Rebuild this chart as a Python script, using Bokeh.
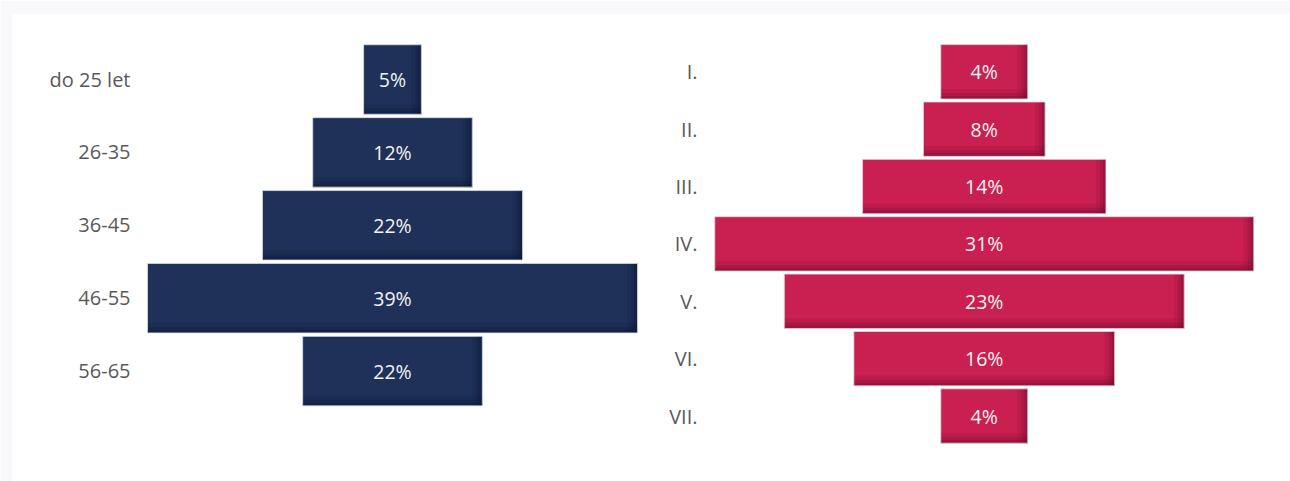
from bokeh.plotting import figure
from bokeh.models import Range1d, ColumnDataSource
from bokeh.core.properties import value
from bokeh.embed import file_html
from bokeh.resources import INLINE

# ---------------- data ----------------
age_groups = ["do 25 let", "26-35", "36-45", "46-55", "56-65"]
age_pct = [5, 12, 22, 39, 22]                 # printed labels (%)
age_bar = [4.6, 12.7, 20.7, 39.0, 14.3]       # bar lengths as drawn (% units)

classes = ["I.", "II.", "III.", "IV.", "V.", "VI.", "VII."]
class_pct = [4, 8, 14, 31, 23, 16, 4]         # printed labels (%)
class_bar = [5.0, 7.0, 14.0, 31.0, 23.0, 15.0, 5.0]  # bar lengths as drawn

NAVY = "#1F3159"
NAVY_DARK = "#0B1430"
CRIMSON = "#C91F51"
CRIMSON_DARK = "#6E0B2A"
LABEL_GRAY = "#595959"
FONT = "Open Sans"

W, H = 1290, 481
BL, BT = 12, 14
FW, FH = W - BL, H - BT

# pixel scales (px per data unit) for the two panels
LEFT_SCALE, LEFT_CX = 12.564, 392 - BL      # center in frame px
RIGHT_SCALE, RIGHT_CX = 17.387, 983.75 - BL
LEFT_PITCH, LEFT_Y0 = 72.9, 79 - BT
RIGHT_PITCH, RIGHT_Y0 = 57.37, 71.3 - BT


def xr(scale, cx):
    s = -cx / scale
    return Range1d(s, s + FW / scale)


def yr(pitch, y0):
    e = -y0 / pitch
    return Range1d(e + FH / pitch, e)


p = figure(width=W, height=H, output_backend="svg", toolbar_location=None,
           x_axis_type=None, y_axis_type=None,
           x_range=xr(LEFT_SCALE, LEFT_CX), y_range=yr(LEFT_PITCH, LEFT_Y0),
           min_border_left=BL, min_border_top=BT, min_border_right=0, min_border_bottom=0)
p.extra_x_ranges = {"cls": xr(RIGHT_SCALE, RIGHT_CX)}
p.extra_y_ranges = {"cls": yr(RIGHT_PITCH, RIGHT_Y0)}
p.grid.visible = False
p.outline_line_color = None
p.background_fill_color = "white"
p.border_fill_color = "#F8F8FA"


def panel(cats, pct, bars, scale, pitch, color, dark, label_px, rname=None):
    n = len(cats)
    ys = list(range(n))
    h = 0.953 if rname is None else 0.948
    kw = {} if rname is None else {"x_range_name": rname, "y_range_name": rname}
    src = ColumnDataSource(dict(
        y=ys, left=[-b / 2 for b in bars], right=[b / 2 for b in bars],
        top=[y - h / 2 for y in ys], bottom=[y + h / 2 for y in ys],
        lab=[f"{v}%" for v in pct], cat=cats, zero=[0] * n,
    ))
    p.quad(left="left", right="right", top="top", bottom="bottom", source=src,
           fill_color=color, line_color=None, **kw)
    dx = 1.0 / scale
    dy = 1.0 / pitch
    # bevel shading: right edge and bottom edge
    for k, a in [(10, 0.14), (6, 0.2), (3, 0.28)]:
        rs = ColumnDataSource(dict(
            l=[b / 2 - k * dx for b in bars], r=[b / 2 for b in bars],
            t=[y - h / 2 for y in ys], b=[y + h / 2 for y in ys]))
        p.quad(left="l", right="r", top="t", bottom="b", source=rs,
               fill_color=dark, fill_alpha=a, line_color=None, **kw)
        bs = ColumnDataSource(dict(
            l=[-b / 2 for b in bars], r=[b / 2 for b in bars],
            t=[y + h / 2 - k * dy for y in ys], b=[y + h / 2 for y in ys]))
        p.quad(left="l", right="r", top="t", bottom="b", source=bs,
               fill_color=dark, fill_alpha=a, line_color=None, **kw)
    p.quad(left="left", right="right", top="top", bottom="bottom", source=src,
           fill_alpha=0, line_color="#DADDE5", line_alpha=0.8, line_width=1, **kw)
    p.text(x="zero", y="y", text="lab", source=src, text_color="#F2F2F2",
           text_font=value(FONT), text_font_size="19.5px", text_align="center",
           text_baseline="middle", **kw)
    lsrc = ColumnDataSource(dict(x=[label_px / scale] * n, y=ys, cat=cats))
    p.text(x="x", y="y", text="cat", source=lsrc, text_color=LABEL_GRAY,
           text_font=value(FONT), text_font_size="20px", text_align="right",
           text_baseline="middle", **kw)


panel(age_groups, age_pct, age_bar, LEFT_SCALE, LEFT_PITCH, NAVY, NAVY_DARK,
      130 - 392)
panel(classes, class_pct, class_bar, RIGHT_SCALE, RIGHT_PITCH, CRIMSON, CRIMSON_DARK,
      697 - 983.75, rname="cls")

open("out.html", "w").write(file_html(p, INLINE))
